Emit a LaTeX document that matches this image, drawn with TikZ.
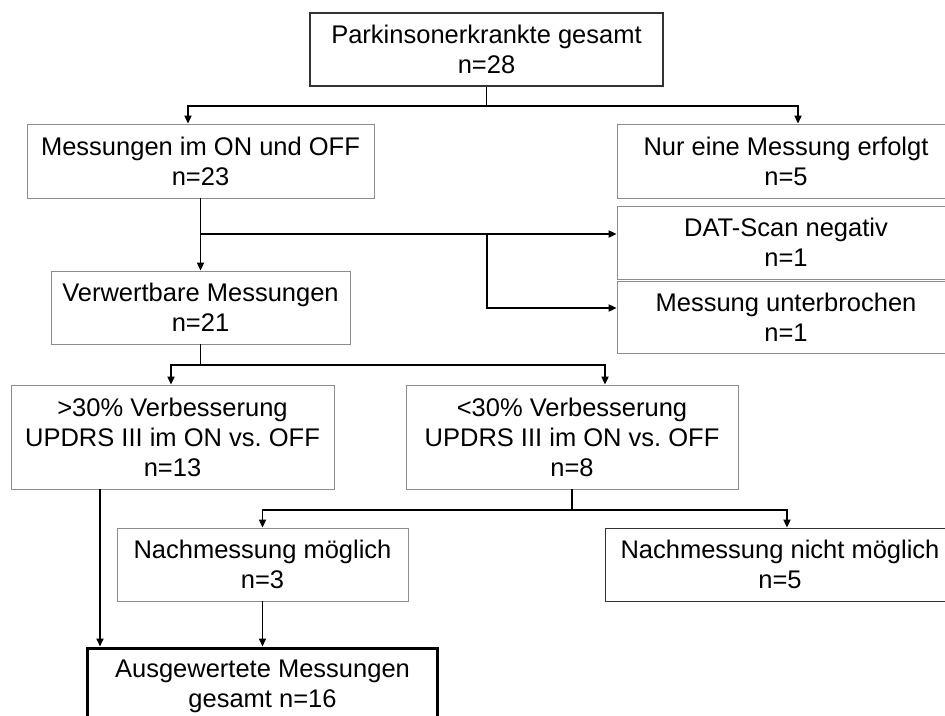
\documentclass[tikz,border=0pt]{standalone}
\usepackage{fontspec}
\setmainfont{Liberation Sans}
\usetikzlibrary{positioning,arrows.meta}

\tikzset{
    box/.style={draw=black!45, line width=0.8pt, align=center, inner sep=0pt,
        font=\fontsize{25.5}{30}\selectfont},
    link/.style={line width=1.8pt, -{Triangle[width=7pt,length=8pt]}},
    stem/.style={line width=1.8pt},
}

\begin{document}
\begin{tikzpicture}[x=1pt, y=-1pt]
    \useasboundingbox (0,0) rectangle (945,715);

    \node[box, draw=black!80, line width=1.2pt, minimum width=353pt, minimum height=73pt] (parkinson) at (486.5,49.5) {Parkinsonerkrankte gesamt\\n=28};
    \node[box, minimum width=347pt, minimum height=74pt] (onoff) at (200.5,161) {Messungen im ON und OFF\\n=23};
    \node[box, minimum width=338pt, minimum height=74pt] (einmess) at (786,161) {Nur eine Messung erfolgt\\n=5};
    \node[box, minimum width=338pt, minimum height=73pt] (datscan) at (786,242.5) {DAT-Scan negativ\\n=1};
    \node[box, minimum width=338pt, minimum height=72pt] (abbruch) at (786,317) {Messung unterbrochen\\n=1};
    \node[box, minimum width=299pt, minimum height=73pt] (verwertbar) at (200.5,307.5) {Verwertbare Messungen\\n=21};
    \node[box, minimum width=323pt, minimum height=104pt] (besser) at (172.5,437) {>30\% Verbesserung\\UPDRS III im ON vs.\ OFF\\n=13};
    \node[box, minimum width=332pt, minimum height=104pt] (schlechter) at (572,437) {<30\% Verbesserung\\UPDRS III im ON vs.\ OFF\\n=8};
    \node[box, minimum width=291pt, minimum height=73pt] (nachja) at (262.5,564.5) {Nachmessung möglich\\n=3};
    \node[box, draw=black!80, minimum width=350pt, minimum height=73pt] (nachnein) at (780,564.5) {Nachmessung nicht möglich\\n=5};
    \node[box, draw=black, line width=3pt, minimum width=350pt, minimum height=76pt] (gesamt) at (262.5,686) {Ausgewertete Messungen\\gesamt n=16};

    \coordinate (j1) at (486.5,106);
    \draw[stem] (parkinson.south) -- (j1);
    \draw[link] (j1) -| ([xshift=-12.5pt]onoff.north);
    \draw[link] (j1) -| ([xshift=12pt]einmess.north);

    \draw[link] (onoff) -- (verwertbar);
    \coordinate (j2) at (200.5,234);
    \draw[link] (j2) -- (datscan.west |- j2);
    \coordinate (j3) at (487,234);
    \draw[link] (j3) |- ([yshift=9pt]abbruch.west);

    \coordinate (j4) at (200.5,365);
    \draw[stem] (verwertbar.south) -- (j4);
    \draw[link] (j4) -| ([xshift=-1.5pt]besser.north);
    \draw[link] (j4) -| ([xshift=33pt]schlechter.north);

    \coordinate (j5) at (572,510);
    \draw[stem] (schlechter.south) -- (j5);
    \draw[link] (j5) -| (nachja.north);
    \draw[link] (j5) -| ([xshift=7pt]nachnein.north);

    \draw[link] ([xshift=-72.5pt]besser.south) -- ([xshift=-72.5pt]besser.south |- gesamt.north);
    \draw[link] (nachja) -- (gesamt);
\end{tikzpicture}
\end{document}
